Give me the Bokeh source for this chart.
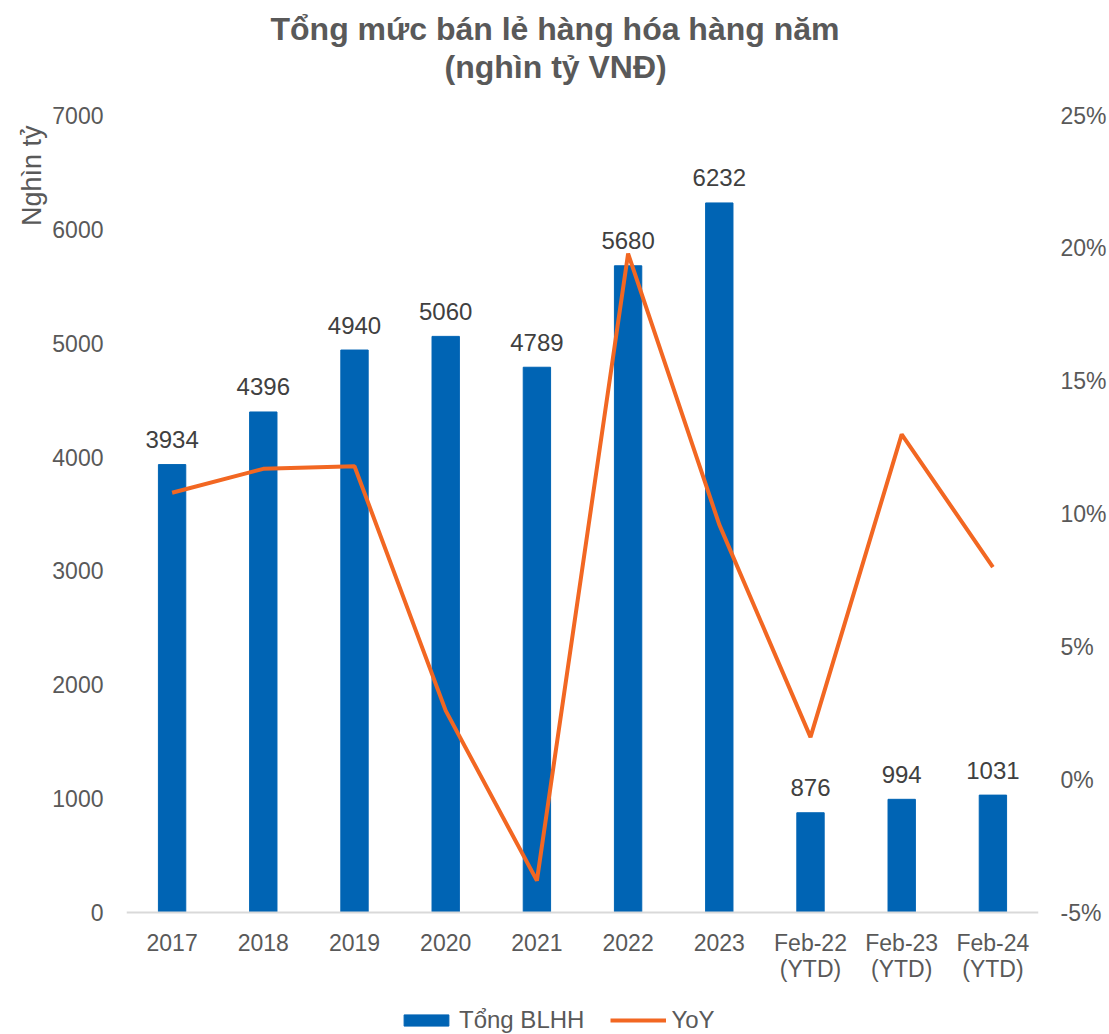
from bokeh.plotting import figure
from bokeh.models import (ColumnDataSource, FactorRange, Range1d, LinearAxis, FixedTicker,
                          NumeralTickFormatter, Title, Legend, LegendItem)
from bokeh.embed import file_html
from bokeh.resources import INLINE
from bokeh.core.properties import value

categories = ["2017", "2018", "2019", "2020", "2021", "2022", "2023",
              "Feb-22\n(YTD)", "Feb-23\n(YTD)", "Feb-24\n(YTD)"]
retail = [3934, 4396, 4940, 5060, 4789, 5680, 6232, 876, 994, 1031]
yoy = [0.108, 0.117, 0.118, 0.026, -0.038, 0.198, 0.096, 0.016, 0.130, 0.080]
label_text = [str(v) for v in retail]
left_ticks = [0, 1000, 2000, 3000, 4000, 5000, 6000, 7000]
right_ticks = [-0.05, 0, 0.05, 0.10, 0.15, 0.20, 0.25]

FONT = "Liberation Sans"
BLUE = "#0064B4"
ORANGE = "#F26722"
GRAY = "#595959"

# the plotting frame extends below the category axis to make room for the legend
AXIS_H = 797.0      # pixels between 0 and 7000
EXTRA = 122.0       # pixels below the category axis
ylo = -7000 * EXTRA / AXIS_H
plo = -0.05 - 0.30 * EXTRA / AXIS_H

src = ColumnDataSource(dict(cat=categories, val=retail, yoy=yoy, lab=label_text))

p = figure(width=1109, height=1034, x_range=FactorRange(*categories),
           y_range=Range1d(ylo, 7000), output_backend="svg", toolbar_location=None,
           min_border_left=126, min_border_right=65, min_border_top=115,
           min_border_bottom=0)
p.extra_y_ranges = {"pct": Range1d(plo, 0.25)}
p.outline_line_color = None
p.xgrid.visible = False
p.ygrid.visible = False
p.background_fill_color = "white"
p.border_fill_color = "white"

bars = p.vbar(x="cat", top="val", bottom=0, width=0.3, source=src, fill_color=BLUE, line_color=BLUE)
line = p.line(x="cat", y="yoy", source=src, y_range_name="pct", line_color=ORANGE, line_width=4)

p.text(x="cat", y="val", text="lab", source=src, text_align="center", text_baseline="alphabetic",
       y_offset=-25, text_font=value(FONT), text_font_size="24px", text_color="#404040")

# left axis
ya = p.yaxis[0]
ya.ticker = FixedTicker(ticks=left_ticks)
ya.axis_line_color = None
ya.major_tick_line_color = None
ya.minor_tick_line_color = None
ya.major_label_text_font = FONT
ya.major_label_text_font_size = "23px"
ya.major_label_text_color = GRAY
ya.major_label_standoff = 17

# right axis
ra = LinearAxis(y_range_name="pct", ticker=FixedTicker(ticks=right_ticks),
                formatter=NumeralTickFormatter(format="0%"))
ra.axis_line_color = None
ra.major_tick_line_color = None
ra.minor_tick_line_color = None
ra.major_label_text_font = FONT
ra.major_label_text_font_size = "23px"
ra.major_label_text_color = GRAY
ra.major_label_standoff = 16
p.add_layout(ra, "right")

# x axis, pinned at value 0
xa = p.xaxis[0]
xa.fixed_location = 0
xa.axis_line_color = "#D9D9D9"
xa.axis_line_width = 2
xa.major_tick_line_color = None
xa.minor_tick_line_color = None
xa.major_label_text_font = FONT
xa.major_label_text_font_size = "23px"
xa.major_label_text_color = GRAY
xa.major_label_text_line_height = 1.0
xa.major_label_standoff = 11

# y axis title at top-left
yt = Title(text="Nghìn tỷ", align="right", text_font=FONT, text_font_size="27px",
           text_font_style="normal", text_color=GRAY, standoff=5, offset=10)
p.add_layout(yt, "left")

# legend at the bottom
legend = Legend(items=[LegendItem(label="Tổng BLHH", renderers=[bars]),
                       LegendItem(label="YoY", renderers=[line])],
                orientation="horizontal", location=(272, 0), border_line_color=None,
                background_fill_alpha=0, glyph_width=56, glyph_height=14,
                label_text_font=FONT, label_text_font_size="24px", label_text_color=GRAY,
                label_standoff=5, spacing=26, padding=0, margin=0)
p.add_layout(legend)

# titles (spacer nearest the frame, then second line, then first line)
p.add_layout(Title(text=" ", text_font_size="1px", standoff=28), "above")
p.add_layout(Title(text="(nghìn tỷ VNĐ)", align="left", text_font=FONT, text_font_size="32px",
                   text_font_style="bold", text_color=GRAY, standoff=0, offset=318), "above")
p.add_layout(Title(text="Tổng mức bán lẻ hàng hóa hàng năm", align="left", text_font=FONT,
                   text_font_size="32px", text_font_style="bold", text_color=GRAY, standoff=0,
                   offset=144), "above")

open("out.html", "w").write(file_html(p, INLINE))
